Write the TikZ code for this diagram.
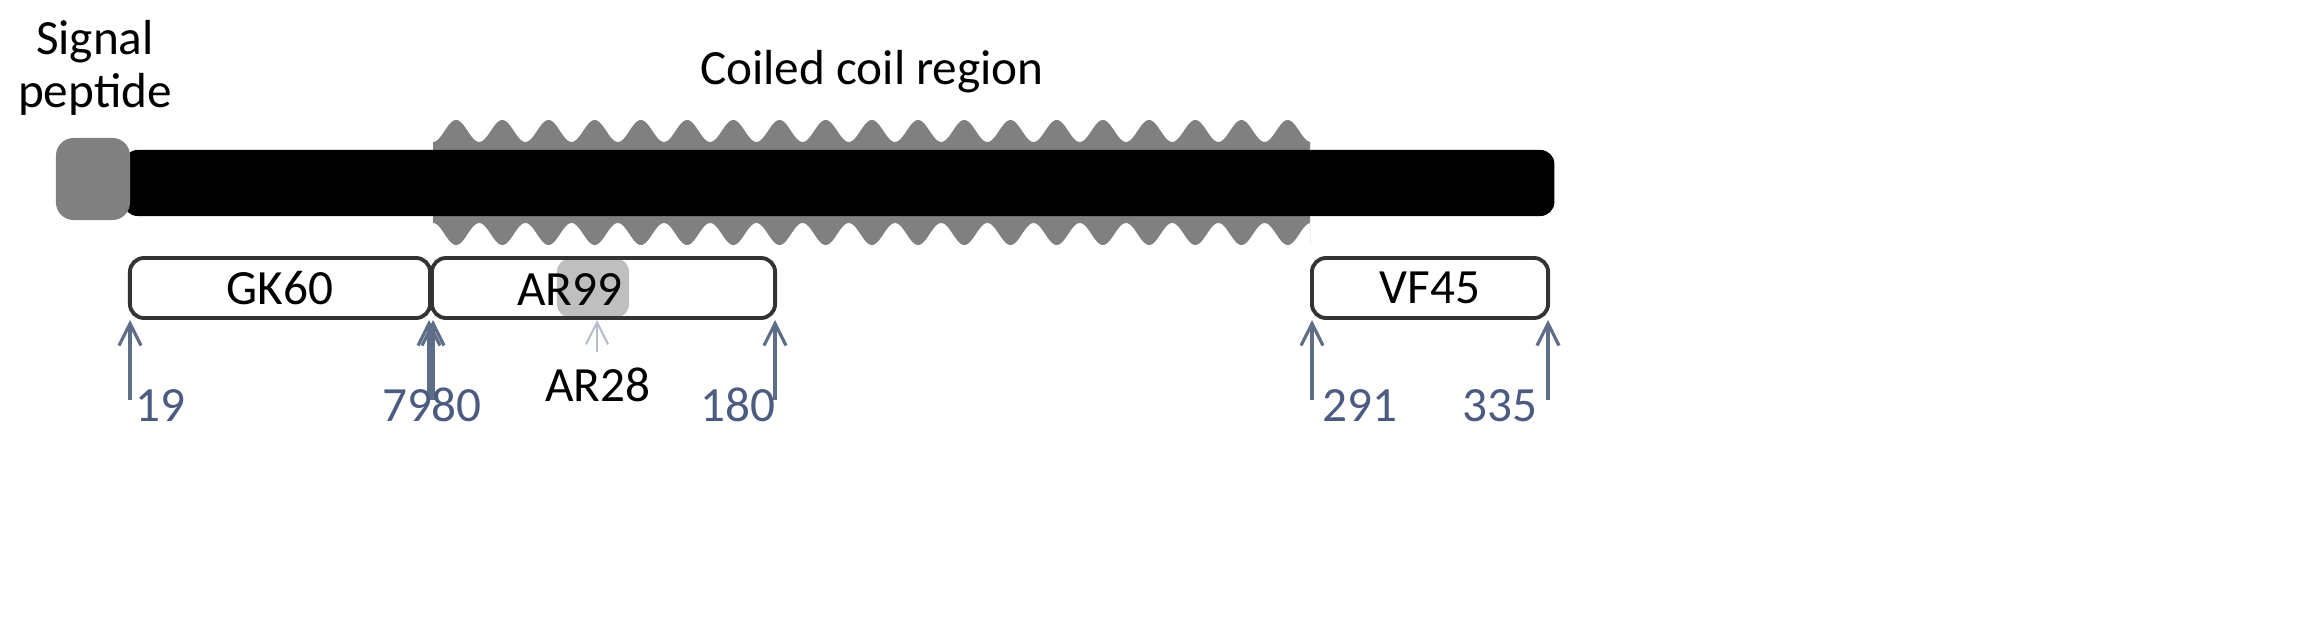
\documentclass[tikz,border=0pt]{standalone}
\usepackage{fontspec}
\setmainfont{Carlito}
\usetikzlibrary{arrows.meta}
\definecolor{arrc}{HTML}{5F6E88}
\definecolor{numc}{HTML}{4C5C80}
\tikzset{
  dombox/.style={draw=black!80, line width=1.1pt, rounded corners=4pt, fill=white, inner sep=0pt, font=\fontsize{14}{16}\selectfont},
  arr/.style={arrc, line width=0.9pt, -{Straight Barb[length=2.2mm,width=2.2mm]}},
  num/.style={numc, font=\fontsize{14}{16}\selectfont, inner sep=0pt, anchor=base},
  lab/.style={font=\fontsize{14}{16}\selectfont, inner sep=0pt, align=center}
}
\begin{document}
\begin{tikzpicture}[x=0.01cm,y=-0.01cm]
\useasboundingbox (0,0) rectangle (2303,637);
% coiled coil region
\fill[black!50]
  plot[domain=433:1310,samples=600] (\x,{131+11*cos(360*((\x-433)/46.2))})
  -- (1310,245)
  -- plot[domain=1310:433,samples=600] (\x,{234-11*cos(360*((\x-433)/46.2))})
  -- cycle;
% main bar
\node[fill=black, rounded corners=4pt, minimum width=14.30cm, minimum height=0.66cm, inner sep=0pt] (bar) at (839,183) {};
% signal peptide
\node[fill=black!50, rounded corners=5pt, minimum width=0.74cm, minimum height=0.82cm, inner sep=0pt] (sp) at (93,179) {};
\node[lab] (sptext) at (95,68) {Signal\\[-1pt]peptide};
\node[lab] (cctext) at (872,72) {Coiled coil region};
% AR28 highlight
\node[fill=black!25, rounded corners=4pt, minimum width=0.72cm, minimum height=0.60cm, inner sep=0pt] (ar28h) at (593,288) {};
% domain boxes
\node[dombox, minimum width=3.00cm, minimum height=0.60cm] (gk) at (280,288) {GK60};
\node[dombox, minimum width=3.43cm, minimum height=0.60cm, fill=none] (ar) at (603.5,288) {};
\node[font=\fontsize{14}{16}\selectfont, inner sep=0pt] (artext) at (570,290) {AR99};
\node[dombox, minimum width=2.36cm, minimum height=0.60cm] (vf) at (1430,288) {VF45};
% arrows
\coordinate (t19) at (130,320); \coordinate (b19) at (130,400);
\coordinate (t79) at (429,320); \coordinate (b79) at (429,400);
\coordinate (t80) at (433,320); \coordinate (b80) at (433,400);
\coordinate (t180) at (775,320); \coordinate (b180) at (775,400);
\coordinate (t291) at (1312,320); \coordinate (b291) at (1312,400);
\coordinate (t335) at (1548,320); \coordinate (b335) at (1548,400);
\coordinate (t28) at (597,320); \coordinate (b28) at (597,352);
\foreach \n in {19,79,80,180,291,335} \draw[arr] (b\n) -- (t\n);
\draw[arr, arrc!45, line width=0.6pt] (b28) -- (t28);
% numbers
\node[num] (n19) at (160,422) {19};
\node[num] (n79) at (407,422) {79};
\node[num] (n80) at (456,422) {80};
\node[num] (n180) at (738,422) {180};
\node[num] (n291) at (1360,422) {291};
\node[num] (n335) at (1500,422) {335};
\node[lab] (ar28) at (598,385) {AR28};
\end{tikzpicture}
\end{document}
